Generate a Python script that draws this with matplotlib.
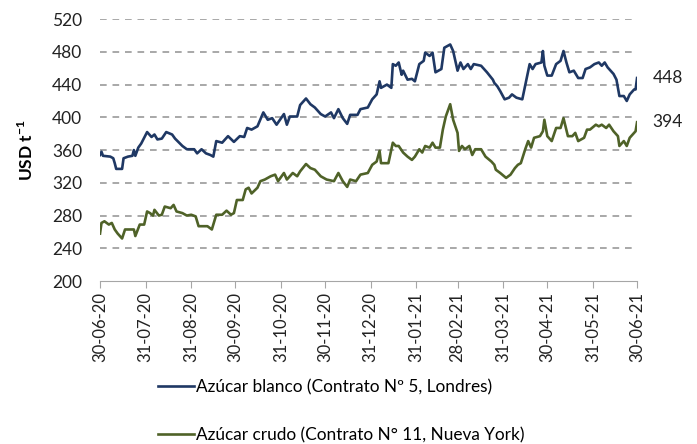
import pandas as pd
import matplotlib
matplotlib.use("Agg")
import matplotlib.pyplot as plt
import matplotlib.dates as mdates

plt.rcParams['font.family'] = ["Lato", "DejaVu Sans"]
plt.rcParams['font.size'] = 12
plt.rcParams['mathtext.fontset'] = "custom"
plt.rcParams['mathtext.rm'] = "Lato"
plt.rcParams['mathtext.bf'] = "Lato:bold"

# Azúcar blanco (Contrato Nº 5, Londres), USD/t
blanco_fechas = [
    "2020-06-30", "2020-07-01", "2020-07-02", "2020-07-07", "2020-07-09", "2020-07-10",
    "2020-07-11", "2020-07-15", "2020-07-16", "2020-07-19", "2020-07-22", "2020-07-23",
    "2020-07-24", "2020-07-26", "2020-07-28", "2020-08-01", "2020-08-04", "2020-08-06",
    "2020-08-08", "2020-08-11", "2020-08-14", "2020-08-18", "2020-08-20", "2020-08-25",
    "2020-08-28", "2020-09-02", "2020-09-04", "2020-09-07", "2020-09-10", "2020-09-13",
    "2020-09-15", "2020-09-17", "2020-09-21", "2020-09-25", "2020-09-29", "2020-10-03",
    "2020-10-06", "2020-10-08", "2020-10-11", "2020-10-15", "2020-10-19", "2020-10-22",
    "2020-10-25", "2020-10-28", "2020-11-02", "2020-11-04", "2020-11-06", "2020-11-11",
    "2020-11-13", "2020-11-17", "2020-11-20", "2020-11-23", "2020-11-27", "2020-11-30",
    "2020-12-04", "2020-12-06", "2020-12-09", "2020-12-12", "2020-12-15", "2020-12-17",
    "2020-12-22", "2020-12-24", "2020-12-29", "2021-01-01", "2021-01-04", "2021-01-06",
    "2021-01-07", "2021-01-11", "2021-01-14", "2021-01-15", "2021-01-17", "2021-01-19",
    "2021-01-21", "2021-01-22", "2021-01-25", "2021-01-28", "2021-01-30", "2021-02-02",
    "2021-02-05", "2021-02-06", "2021-02-09", "2021-02-11", "2021-02-13", "2021-02-17",
    "2021-02-19", "2021-02-21", "2021-02-23", "2021-02-25", "2021-02-28", "2021-03-02",
    "2021-03-04", "2021-03-07", "2021-03-09", "2021-03-11", "2021-03-16", "2021-03-20",
    "2021-03-24", "2021-03-25", "2021-03-27", "2021-03-29", "2021-04-01", "2021-04-04",
    "2021-04-06", "2021-04-09", "2021-04-13", "2021-04-16", "2021-04-18", "2021-04-20",
    "2021-04-22", "2021-04-26", "2021-04-27", "2021-04-28", "2021-04-30", "2021-05-03",
    "2021-05-06", "2021-05-09", "2021-05-11", "2021-05-13", "2021-05-15", "2021-05-18",
    "2021-05-21", "2021-05-24", "2021-05-26", "2021-05-29", "2021-06-01", "2021-06-04",
    "2021-06-06", "2021-06-08", "2021-06-10", "2021-06-14", "2021-06-16", "2021-06-18",
    "2021-06-21", "2021-06-23", "2021-06-25", "2021-06-28", "2021-06-29", "2021-06-30",
]
blanco_valores = [
    354, 358, 353, 352, 350, 344, 337, 337, 350, 352, 353, 360,
    353, 363, 368, 382, 376, 379, 373, 374, 382, 379, 374, 365,
    361, 361, 356, 361, 356, 354, 352, 371, 369, 377, 370, 377,
    376, 387, 385, 389, 406, 397, 399, 391, 404, 391, 401, 401,
    415, 423, 416, 412, 404, 401, 406, 399, 410, 399, 392, 403,
    403, 410, 412, 422, 428, 444, 436, 440, 436, 465, 463, 467,
    452, 457, 446, 447, 444, 465, 469, 479, 475, 479, 455, 459,
    485, 487, 489, 481, 457, 467, 459, 465, 459, 465, 463, 455,
    446, 442, 438, 432, 422, 424, 428, 424, 422, 448, 465, 459,
    465, 467, 481, 463, 451, 451, 465, 469, 481, 467, 455, 457,
    448, 448, 459, 461, 465, 467, 463, 467, 461, 453, 446, 426,
    426, 420, 428, 434, 434, 448,
]

# Azúcar crudo (Contrato N° 11, Nueva York), USD/t
crudo_fechas = [
    "2020-06-30", "2020-07-01", "2020-07-03", "2020-07-06", "2020-07-08", "2020-07-10",
    "2020-07-12", "2020-07-15", "2020-07-17", "2020-07-20", "2020-07-23", "2020-07-24",
    "2020-07-27", "2020-07-30", "2020-08-01", "2020-08-03", "2020-08-05", "2020-08-06",
    "2020-08-09", "2020-08-11", "2020-08-13", "2020-08-17", "2020-08-19", "2020-08-21",
    "2020-08-25", "2020-08-28", "2020-08-31", "2020-09-03", "2020-09-05", "2020-09-08",
    "2020-09-11", "2020-09-14", "2020-09-17", "2020-09-21", "2020-09-24", "2020-09-27",
    "2020-09-29", "2020-10-01", "2020-10-05", "2020-10-07", "2020-10-09", "2020-10-11",
    "2020-10-15", "2020-10-17", "2020-10-20", "2020-10-24", "2020-10-27", "2020-10-29",
    "2020-11-02", "2020-11-04", "2020-11-08", "2020-11-11", "2020-11-13", "2020-11-17",
    "2020-11-20", "2020-11-23", "2020-11-27", "2020-12-01", "2020-12-06", "2020-12-09",
    "2020-12-12", "2020-12-15", "2020-12-17", "2020-12-21", "2020-12-24", "2020-12-29",
    "2021-01-01", "2021-01-04", "2021-01-06", "2021-01-07", "2021-01-12", "2021-01-15",
    "2021-01-17", "2021-01-19", "2021-01-22", "2021-01-25", "2021-01-28", "2021-01-30",
    "2021-02-02", "2021-02-04", "2021-02-06", "2021-02-09", "2021-02-11", "2021-02-13",
    "2021-02-16", "2021-02-18", "2021-02-20", "2021-02-23", "2021-02-25", "2021-02-28",
    "2021-03-01", "2021-03-03", "2021-03-05", "2021-03-08", "2021-03-10", "2021-03-12",
    "2021-03-16", "2021-03-19", "2021-03-23", "2021-03-25", "2021-03-26", "2021-03-29",
    "2021-04-02", "2021-04-05", "2021-04-08", "2021-04-10", "2021-04-12", "2021-04-15",
    "2021-04-17", "2021-04-19", "2021-04-21", "2021-04-25", "2021-04-27", "2021-04-28",
    "2021-04-30", "2021-05-03", "2021-05-06", "2021-05-09", "2021-05-11", "2021-05-14",
    "2021-05-17", "2021-05-19", "2021-05-21", "2021-05-25", "2021-05-27", "2021-05-29",
    "2021-06-02", "2021-06-04", "2021-06-06", "2021-06-09", "2021-06-11", "2021-06-14",
    "2021-06-17", "2021-06-18", "2021-06-21", "2021-06-23", "2021-06-25", "2021-06-28",
    "2021-06-29", "2021-06-30",
]
crudo_valores = [
    258, 271, 273, 269, 271, 263, 258, 252, 263, 263, 263, 255,
    269, 269, 285, 283, 280, 287, 280, 281, 291, 289, 293, 285,
    283, 280, 281, 279, 267, 267, 267, 263, 281, 281, 286, 281,
    283, 299, 299, 312, 314, 307, 314, 322, 324, 328, 330, 322,
    332, 324, 332, 328, 334, 343, 338, 336, 328, 324, 322, 332,
    322, 315, 324, 322, 330, 332, 342, 346, 359, 344, 344, 369,
    365, 365, 357, 352, 348, 352, 361, 357, 365, 363, 369, 363,
    363, 385, 401, 416, 397, 381, 359, 365, 361, 365, 354, 361,
    361, 352, 346, 342, 336, 332, 326, 330, 338, 342, 344, 361,
    371, 363, 375, 377, 383, 397, 377, 371, 387, 387, 399, 377,
    377, 381, 371, 375, 385, 385, 391, 389, 391, 387, 391, 383,
    377, 365, 371, 365, 375, 381, 383, 394,
]

fechas_ticks = [
    "2020-06-30", "2020-07-31", "2020-08-31", "2020-09-30", "2020-10-31",
    "2020-11-30", "2020-12-31", "2021-01-31", "2021-02-28", "2021-03-31",
    "2021-04-30", "2021-05-31", "2021-06-30",
]

color_blanco = "#1f3864"
color_crudo = "#4f6228"

blanco = pd.Series(blanco_valores, index=pd.to_datetime(blanco_fechas))
crudo = pd.Series(crudo_valores, index=pd.to_datetime(crudo_fechas))

fig = plt.figure(figsize=(6.97, 4.44), dpi=100)
ax = fig.add_axes([0.1435, 0.367, 0.7705, 0.59])

ax.plot(blanco.index, blanco.values, color=color_blanco, lw=1.9,
        label="Azúcar blanco (Contrato Nº 5, Londres)")
ax.plot(crudo.index, crudo.values, color=color_crudo, lw=1.9,
        label="Azúcar crudo (Contrato N° 11, Nueva York)")

# End-of-series value labels
for serie in (blanco, crudo):
    ax.annotate(f"{serie.values[-1]}", (serie.index[-1], serie.values[-1]),
                xytext=(11, 0), textcoords="offset points",
                va="center", ha="left", fontsize=12.5, color="#222222")

ax.set_ylim(200, 520)
ax.set_yticks(range(200, 521, 40))
ax.set_xlim(pd.Timestamp(fechas_ticks[0]), pd.Timestamp(fechas_ticks[-1]))
ax.set_xticks(pd.to_datetime(fechas_ticks))
ax.xaxis.set_major_formatter(mdates.DateFormatter("%d-%m-%y"))
plt.setp(ax.get_xticklabels(), rotation=90, fontsize=12)
plt.setp(ax.get_yticklabels(), fontsize=12.5)

# Gridlines
for v in range(240, 521, 40):
    ax.axhline(v, color="#999999", lw=1.2, ls=(0, (4, 3.5)), zorder=0)

for s in ("top", "right", "left"):
    ax.spines[s].set_visible(False)
ax.spines["bottom"].set_color("#a6a6a6")
ax.tick_params(axis="x", colors="#a6a6a6", labelcolor="#222222", length=5,
               direction="out", pad=3)
ax.tick_params(axis="y", length=0, pad=13, labelcolor="#222222")

ax.set_ylabel(r"USD t$^{\mathbf{-1}}$", fontsize=12.5, fontweight="bold", labelpad=11)

fig.legend(loc="upper left", bbox_to_anchor=(0.226, 1 - 379 / 444), frameon=False,
           borderpad=0, borderaxespad=0, handlelength=2.1, handletextpad=0.15,
           labelspacing=1.85, fontsize=12.4)

fig.savefig("out.png", dpi=100)
